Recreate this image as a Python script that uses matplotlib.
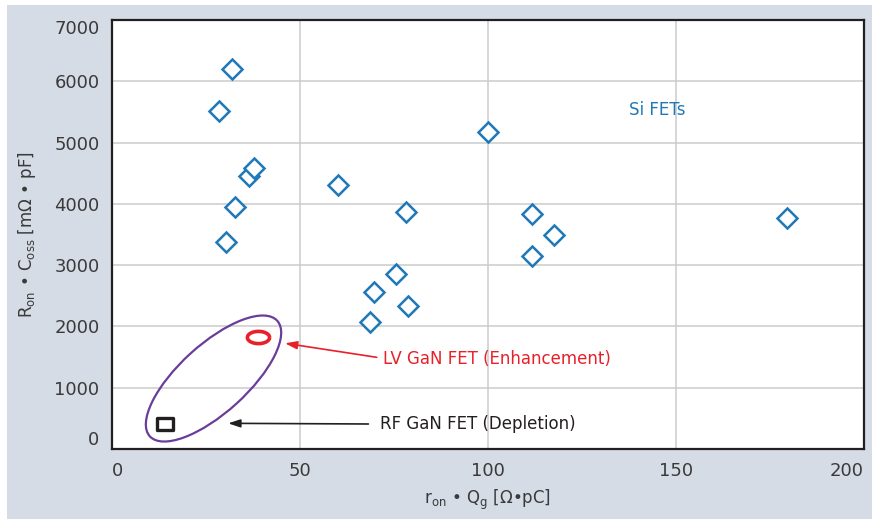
import numpy as np
import matplotlib
matplotlib.use('Agg')
import matplotlib.pyplot as plt
from matplotlib.patches import Ellipse, Rectangle
from matplotlib.path import Path
import matplotlib.transforms as mtransforms

plt.rcParams['font.family'] = ['DejaVu Sans']
plt.rcParams['mathtext.default'] = 'regular'

# DATA
si_x = [31.8, 28.5, 36.4, 37.7, 32.6, 30.2, 60.1, 100.1, 78.2, 111.8,
        117.5, 111.7, 75.5, 69.6, 78.8, 68.7, 179.4]
si_y = [6205, 5510, 4450, 4590, 3955, 3370, 4300, 5175, 3870, 3840,
        3485, 3155, 2855, 2555, 2330, 2075, 3765]
lv_x = [38.8]
lv_y = [1830]
rf_x = [14.0]
rf_y = [400]
x_ticks = [0, 50, 100, 150, 200]
y_ticks = [0, 1000, 2000, 3000, 4000, 5000, 6000, 7000]

blue = '#1f78b8'
red = '#e8202a'
purple = '#6a3d9a'
dark = '#231f20'
txt = '#3a3a3a'

fig = plt.figure(figsize=(8.72, 5.19), dpi=100, facecolor='white')
fig.patches.append(Rectangle((7 / 872, 0), 1, 514 / 519, transform=fig.transFigure,
                             facecolor='#d5dce6', edgecolor='none', zorder=-5))
ax = fig.add_axes([112 / 872, 70 / 519, 752 / 872, 429 / 519])
ax.set_facecolor('white')

# Si FETs
ax.plot(si_x, si_y, ls='none', marker='D', ms=9.8, mfc='white', mec=blue, mew=1.8, zorder=3)

# GaN markers (custom shapes)
t = np.linspace(0, 2 * np.pi, 60)
oval = Path(np.column_stack([np.cos(t), 0.55 * np.sin(t)]))
ax.plot(lv_x, lv_y, ls='none', marker=oval, ms=16, mfc='white', mec=red, mew=2.6, zorder=4)
box = Path([(-1, -0.8), (1, -0.8), (1, 0.8), (-1, 0.8), (-1, -0.8)], closed=True)
ax.plot(rf_x, rf_y, ls='none', marker=box, ms=11.5, mfc='white', mec=dark, mew=2.4, zorder=4)

# purple group ellipse, sized in inches around a data-space centre
trans = fig.dpi_scale_trans + mtransforms.ScaledTranslation(27.0, 1150, ax.transData)
ax.add_artist(Ellipse((0, 0), 1.72, 0.68, angle=42.2, transform=trans,
                      fill=False, edgecolor=purple, lw=1.6, zorder=3))

# annotations
ax.annotate('', xy=(46.0, 1725), xytext=(70.4, 1496),
            arrowprops=dict(arrowstyle='-|>,head_length=0.6,head_width=0.2',
                            color=red, lw=1.2, mutation_scale=12, shrinkA=0, shrinkB=0))
ax.text(72.1, 1468, 'LV GaN FET (Enhancement)', color=red, fontsize=12,
        ha='left', va='center')
ax.annotate('', xy=(30.9, 419), xytext=(68.2, 408),
            arrowprops=dict(arrowstyle='-|>,head_length=0.6,head_width=0.2',
                            color=dark, lw=1.2, mutation_scale=12, shrinkA=0, shrinkB=0))
ax.text(71.3, 408, 'RF GaN FET (Depletion)', color=dark, fontsize=12,
        ha='left', va='center')
ax.text(145, 5531, 'Si FETs', color=blue, fontsize=12, ha='center', va='center')

# axes setup last so nothing re-autoscales
ax.set_xticks(x_ticks)
ax.set_yticks(y_ticks)
ax.set_xlim(0, 200)
ax.set_ylim(0, 7000)
ax.set_autoscale_on(False)
ax.tick_params(length=0, labelsize=13, labelcolor=txt, pad=9)
ax.grid(True, color='#cccccc', lw=1.1)
ax.set_axisbelow(True)
for s in ax.spines.values():
    s.set_color(dark)
    s.set_linewidth(1.6)

ax.set_xlabel(r'r$_{on}$ • Q$_{g}$ [Ω•pC]', fontsize=12, color=txt, labelpad=6)
ax.set_ylabel(r'R$_{on}$ • C$_{oss}$ [mΩ • pF]', fontsize=12, color=txt, labelpad=12)

# end labels sit inside the frame, as in the original
xl = ax.get_xticklabels()
xl[0].set_ha('left')
xl[-1].set_ha('right')
yl = ax.get_yticklabels()
yl[0].set_va('bottom')
yl[-1].set_va('top')

fig.savefig('out.png', dpi=100)
